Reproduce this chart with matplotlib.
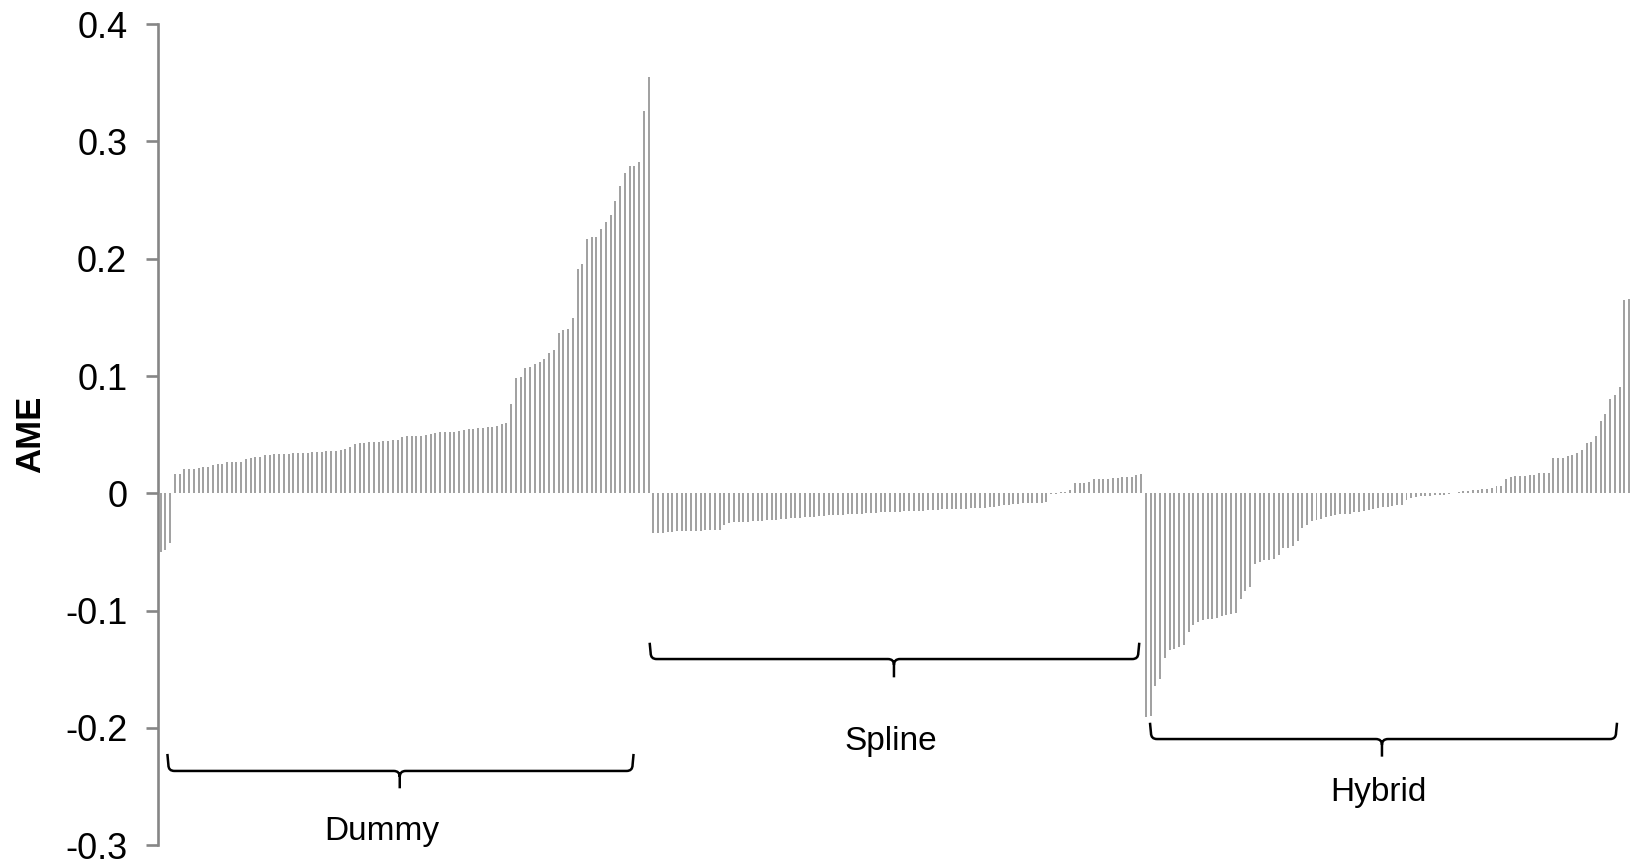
import matplotlib
matplotlib.use("Agg")
import matplotlib.pyplot as plt
import numpy as np
from matplotlib.path import Path
from matplotlib.patches import PathPatch

# Average marginal effects per specification, sorted within each model family
dummy = [
    -0.0497, -0.0480, -0.0420, 0.0162, 0.0162, 0.0205, 0.0205, 0.0205, 0.0213, 0.0224,
    0.0224, 0.0241, 0.0250, 0.0253, 0.0264, 0.0264, 0.0264, 0.0270, 0.0293, 0.0304,
    0.0310, 0.0313, 0.0327, 0.0327, 0.0332, 0.0338, 0.0338, 0.0338, 0.0341, 0.0341,
    0.0341, 0.0344, 0.0349, 0.0349, 0.0349, 0.0358, 0.0358, 0.0361, 0.0366, 0.0375,
    0.0392, 0.0423, 0.0426, 0.0426, 0.0435, 0.0438, 0.0440, 0.0443, 0.0446, 0.0457,
    0.0457, 0.0480, 0.0486, 0.0489, 0.0491, 0.0491, 0.0494, 0.0503, 0.0511, 0.0523,
    0.0526, 0.0526, 0.0526, 0.0528, 0.0537, 0.0548, 0.0551, 0.0554, 0.0560, 0.0563,
    0.0568, 0.0577, 0.0594, 0.0597, 0.0761, 0.0980, 0.0994, 0.1065, 0.1074, 0.1102,
    0.1116, 0.1148, 0.1199, 0.1219, 0.1369, 0.1395, 0.1398, 0.1494, 0.1915, 0.1952,
    0.2170, 0.2185, 0.2188, 0.2256, 0.2310, 0.2369, 0.2489, 0.2616, 0.2727, 0.2787,
    0.2793, 0.2821, 0.3261, 0.3545,
]
spline = [
    -0.0341, -0.0341, -0.0338, -0.0332, -0.0327, -0.0324, -0.0321, -0.0321, -0.0318, -0.0318,
    -0.0318, -0.0315, -0.0313, -0.0310, -0.0310, -0.0267, -0.0256, -0.0247, -0.0244, -0.0241,
    -0.0241, -0.0239, -0.0236, -0.0233, -0.0230, -0.0230, -0.0227, -0.0222, -0.0219, -0.0213,
    -0.0210, -0.0207, -0.0205, -0.0202, -0.0199, -0.0196, -0.0190, -0.0188, -0.0185, -0.0182,
    -0.0182, -0.0179, -0.0176, -0.0176, -0.0173, -0.0170, -0.0168, -0.0165, -0.0162, -0.0162,
    -0.0159, -0.0156, -0.0156, -0.0153, -0.0153, -0.0151, -0.0151, -0.0148, -0.0145, -0.0142,
    -0.0139, -0.0136, -0.0134, -0.0134, -0.0134, -0.0131, -0.0131, -0.0128, -0.0128, -0.0125,
    -0.0122, -0.0119, -0.0116, -0.0111, -0.0102, -0.0097, -0.0094, -0.0091, -0.0085, -0.0082,
    -0.0082, -0.0080, -0.0080, -0.0077, -0.0007, -0.0005, 0.0009, 0.0011, 0.0028, 0.0085,
    0.0085, 0.0091, 0.0094, 0.0122, 0.0122, 0.0125, 0.0125, 0.0128, 0.0131, 0.0136,
    0.0139, 0.0142, 0.0156, 0.0162,
]
hybrid = [
    -0.1910, -0.1900, -0.1640, -0.1585, -0.1400, -0.1340, -0.1330, -0.1310, -0.1290, -0.1180,
    -0.1120, -0.1100, -0.1080, -0.1070, -0.1070, -0.1060, -0.1050, -0.1040, -0.1030, -0.1020,
    -0.0900, -0.0830, -0.0800, -0.0600, -0.0585, -0.0570, -0.0565, -0.0560, -0.0530, -0.0470,
    -0.0465, -0.0450, -0.0410, -0.0300, -0.0270, -0.0240, -0.0230, -0.0220, -0.0200, -0.0190,
    -0.0185, -0.0180, -0.0176, -0.0173, -0.0162, -0.0159, -0.0150, -0.0142, -0.0134, -0.0122,
    -0.0116, -0.0116, -0.0108, -0.0102, -0.0097, -0.0054, -0.0040, -0.0031, -0.0026, -0.0023,
    -0.0020, -0.0017, -0.0014, -0.0011, -0.0006, 0.0006, 0.0010, 0.0017, 0.0020, 0.0026,
    0.0028, 0.0037, 0.0037, 0.0048, 0.0060, 0.0065, 0.0119, 0.0139, 0.0145, 0.0148,
    0.0148, 0.0156, 0.0159, 0.0170, 0.0170, 0.0170, 0.0298, 0.0298, 0.0298, 0.0318,
    0.0324, 0.0347, 0.0369, 0.0426, 0.0438, 0.0491, 0.0616, 0.0673, 0.0804, 0.0838,
    0.0903, 0.1648, 0.1656,
]
group_names = ["Dummy", "Spline", "Hybrid"]
y_ticks = [-0.3, -0.2, -0.1, 0.0, 0.1, 0.2, 0.3, 0.4]
y_tick_labels = ["-0.3", "-0.2", "-0.1", "0", "0.1", "0.2", "0.3", "0.4"]
y_label = "AME"

plt.rcParams["font.family"] = ["Liberation Sans", "DejaVu Sans"]

W, H = 1633, 865
fig = plt.figure(figsize=(W / 100, H / 100), dpi=100)
fig.patch.set_facecolor("white")

values = np.concatenate([dummy, spline, hybrid])
x = np.arange(len(values))

left_px, pitch_px = 158.3, 4.737
top_px, bottom_px = 24.1, 845.2
ax_w = len(values) * pitch_px
ax = fig.add_axes([left_px / W, 1 - bottom_px / H, ax_w / W, (bottom_px - top_px) / H])

ax.bar(x, values, width=0.42, color="#a2a2a2", linewidth=0)
ax.set_xlim(-0.5, len(values) - 0.5)
ax.set_ylim(-0.3, 0.4)

axis_grey = "#868686"
for side in ("top", "right", "bottom"):
    ax.spines[side].set_visible(False)
ax.spines["left"].set_color(axis_grey)
ax.spines["left"].set_linewidth(1.9)
ax.set_xticks([])
ax.set_yticks(y_ticks)
ax.set_yticklabels(y_tick_labels)
ax.tick_params(axis="y", direction="out", length=8.3, width=1.9, color=axis_grey,
               pad=14.0, labelsize=26, labelcolor="black")

fig.text(30.3 / W, 1 - 434 / H, y_label, rotation=90, ha="center", va="center",
         fontsize=25, fontweight="bold")


def draw_brace(ax, x0, x1, xc, y_arm, y_line, y_tip, r=6.0):
    """Horizontal curly brace opening upward, tip pointing down at xc."""
    T = ax.transData
    X0, Ya = T.transform((x0, y_arm))
    X1, _ = T.transform((x1, y_arm))
    Xc, Yl = T.transform((xc, y_line))
    _, Yt = T.transform((xc, y_tip))
    verts = [
        (X0 - 1.0, Ya), (X0, Yl + r), (X0, Yl), (X0 + r, Yl),
        (Xc - r, Yl), (Xc, Yl), (Xc, Yl - r), (Xc, Yt),
        (X1 + 1.0, Ya), (X1, Yl + r), (X1, Yl), (X1 - r, Yl),
        (Xc + r, Yl), (Xc, Yl), (Xc, Yl - r),
    ]
    codes = [
        Path.MOVETO, Path.LINETO, Path.CURVE3, Path.CURVE3,
        Path.LINETO, Path.CURVE3, Path.CURVE3, Path.LINETO,
        Path.MOVETO, Path.LINETO, Path.CURVE3, Path.CURVE3,
        Path.LINETO, Path.CURVE3, Path.CURVE3,
    ]
    data_verts = T.inverted().transform(verts)
    ax.add_patch(PathPatch(Path(data_verts, codes), fill=False, lw=1.8,
                           edgecolor="black", joinstyle="round", capstyle="butt",
                           clip_on=False))


# brace geometry: (start, end, tip, arm top, line, tip end) and label anchor (x, baseline)
braces = [
    ((1.63, 99.62, 50.47, -0.2222, -0.2367, -0.2515), (46.7, -0.2956)),
    ((103.44, 206.38, 154.8, -0.1274, -0.1413, -0.1569), (154.1, -0.2188)),
    ((209.06, 307.23, 257.82, -0.1956, -0.2095, -0.2245), (257.1, -0.2623)),
]
for name, (geom, (tx, ty)) in zip(group_names, braces):
    draw_brace(ax, *geom)
    ax.text(tx, ty, name, ha="center", va="baseline", fontsize=24, clip_on=False)

fig.savefig("out.png", dpi=100, facecolor="white")
